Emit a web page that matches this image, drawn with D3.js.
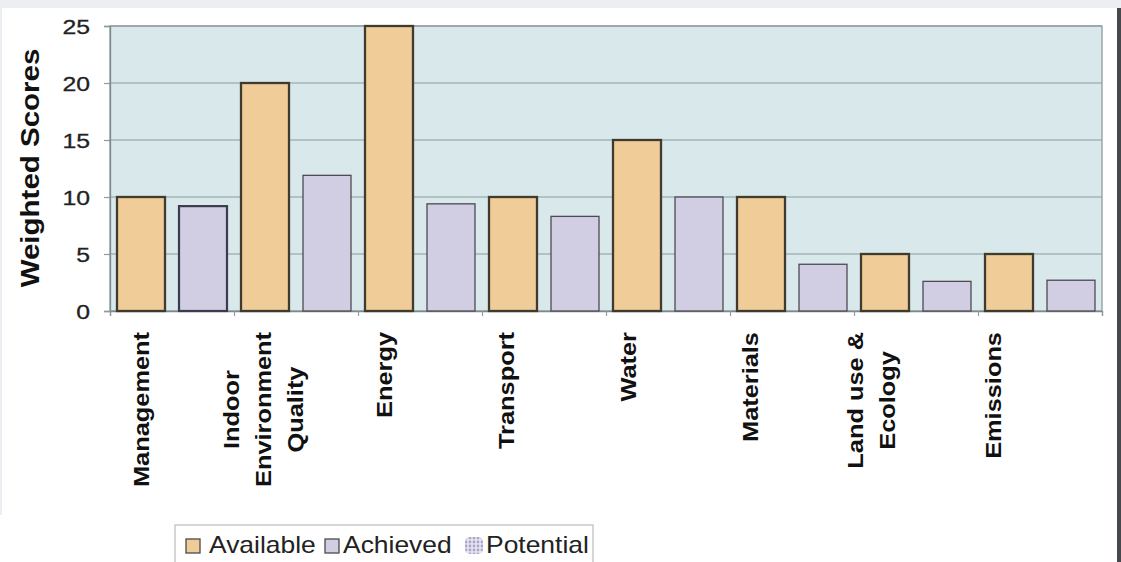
<!DOCTYPE html>
<html>
<head>
<meta charset="utf-8">
<script src="https://cdn.jsdelivr.net/npm/d3@7"></script>
<style>
  html, body { margin: 0; padding: 0; background: #ffffff; }
  svg { display: block; font-family: "Liberation Sans", Arial, sans-serif; }
</style>
</head>
<body>
<svg id="chart" width="1121" height="562"></svg>
<script>
// chart data
var categories = ["Management", "Indoor\nEnvironment\nQuality", "Energy", "Transport",
    "Water", "Materials", "Land use &\nEcology", "Emissions"];
var available = [10, 20, 25, 10, 15, 10, 5, 5];
var achieved = [9.2, 11.9, 9.4, 8.3, 10.0, 4.1, 2.6, 2.7];
var potential = [0, 0, 0, 0, 0, 0, 0, 0];
var yTicks = [0, 5, 10, 15, 20, 25];
var seriesNames = ["Available", "Achieved", "Potential"];

var W = 1121, H = 562;
var plot = { left: 110, right: 1102, top: 26, bottom: 311 };
var stretch = 1.18; // the source font runs wide

var svg = d3.select("#chart");

// page / card background
svg.append("rect").attr("width", W).attr("height", H).attr("fill", "#ffffff");
svg.append("rect").attr("width", W).attr("height", 8).attr("fill", "#eceef1");
svg.append("rect").attr("x", 1117).attr("y", 8).attr("width", 4).attr("height", H - 8)
    .attr("fill", "#45484c");
svg.append("line").attr("x1", 1).attr("x2", 1).attr("y1", 8).attr("y2", 515)
    .attr("stroke", "#e4e8ee").attr("stroke-width", 1.5);

var x = d3.scaleBand()
    .domain(d3.range(categories.length))
    .range([plot.left, plot.right])
    .padding(0);

var xSub = d3.scaleBand()
    .domain(["Available", "Achieved"])
    .range([0, x.bandwidth()])
    .paddingInner(0.2258)
    .paddingOuter(0.113);

var xTick = d3.scaleLinear()
    .domain([0, categories.length])
    .range([plot.left, plot.right]);

// label positions drift a little from the band centres in the source
var xLabel = d3.scalePoint()
    .domain(d3.range(categories.length))
    .range([141, 993]);

var y = d3.scaleLinear()
    .domain([0, 25])
    .range([plot.bottom, plot.top]);

// plot area
svg.append("rect")
    .attr("x", plot.left).attr("y", plot.top)
    .attr("width", plot.right - plot.left).attr("height", plot.bottom - plot.top)
    .attr("fill", "#d9e8ea");

svg.append("g").selectAll("line.grid")
    .data(yTicks.slice(1))
    .enter().append("line")
    .classed("grid", true)
    .attr("x1", plot.left).attr("x2", plot.right)
    .attr("y1", function (d) { return y(d); })
    .attr("y2", function (d) { return y(d); })
    .attr("stroke", "#a3b6b9").attr("stroke-width", 1.3);

svg.append("rect")
    .attr("x", plot.left).attr("y", plot.top)
    .attr("width", plot.right - plot.left).attr("height", plot.bottom - plot.top)
    .attr("fill", "none").attr("stroke", "#8e9b9d").attr("stroke-width", 1.3);

// axes
var yAxis = svg.append("g")
    .attr("transform", "translate(" + plot.left + ",0)")
    .call(d3.axisLeft(y).tickValues(yTicks).tickSize(6).tickFormat(""));
var xAxis = svg.append("g")
    .attr("transform", "translate(0," + plot.bottom + ")")
    .call(d3.axisBottom(xTick).ticks(categories.length).tickSize(5).tickFormat(""));
[yAxis, xAxis].forEach(function (ax) {
    ax.select(".domain").attr("stroke", "#7d8a8c").attr("stroke-width", 1.3);
    ax.selectAll(".tick line").attr("stroke", "#8e9b9d").attr("stroke-width", 1.2);
});

// y tick labels
svg.append("g").selectAll("text.ytick")
    .data(yTicks)
    .enter().append("text")
    .classed("ytick", true)
    .attr("transform", function (d) {
        return "translate(90," + (y(d) + 8) + ") scale(" + stretch + ",1)";
    })
    .attr("text-anchor", "end")
    .attr("font-size", 21)
    .attr("fill", "#222")
    .attr("stroke", "#222").attr("stroke-width", 0.3)
    .text(function (d) { return d; });

// y axis title
svg.append("text")
    .attr("transform", "translate(39,168) rotate(-90) scale(" + stretch + ",1)")
    .attr("text-anchor", "middle")
    .attr("font-size", 25)
    .attr("font-weight", "bold")
    .attr("fill", "#111")
    .text("Weighted Scores");

// bars
var barGroups = svg.append("g").selectAll("g.cat")
    .data(categories)
    .enter().append("g")
    .classed("cat", true)
    .attr("transform", function (d, i) { return "translate(" + x(i) + ",0)"; });

barGroups.append("rect")
    .classed("available", true)
    .attr("x", xSub("Available"))
    .attr("width", xSub.bandwidth())
    .attr("y", function (d, i) { return y(available[i]); })
    .attr("height", function (d, i) { return y(0) - y(available[i]); })
    .attr("fill", "#f0cd98")
    .attr("stroke", "#3f3b2e")
    .attr("stroke-width", 2.3);

barGroups.append("rect")
    .classed("achieved", true)
    .attr("x", xSub("Achieved"))
    .attr("width", xSub.bandwidth())
    .attr("y", function (d, i) { return y(achieved[i]); })
    .attr("height", function (d, i) { return y(0) - y(achieved[i]); })
    .attr("fill", "#d1cde3")
    .attr("stroke", function (d, i) { return i === 0 ? "#3b3d4e" : "#4e4a52"; })
    .attr("stroke-width", function (d, i) { return i === 0 ? 2.2 : 1.3; });

// potential stacks on top of achieved (nothing visible in the source)
barGroups.append("rect")
    .classed("potential", true)
    .attr("x", xSub("Achieved"))
    .attr("width", xSub.bandwidth())
    .attr("y", function (d, i) { return y(achieved[i] + potential[i]); })
    .attr("height", function (d, i) { return y(achieved[i]) - y(achieved[i] + potential[i]); })
    .attr("fill", "url(#dots)");

// category labels, rotated, lines centred, block hanging from the axis
var labelTop = 332;
svg.append("g").selectAll("g.xlabel")
    .data(categories)
    .enter().append("g")
    .classed("xlabel", true)
    .each(function (d, i) {
        var g = d3.select(this);
        var lines = d.split("\n");
        var lineGap = 32;
        var texts = lines.map(function (line) {
            return g.append("text")
                .attr("font-size", 21.5)
                .attr("font-weight", "bold")
                .attr("fill", "#111")
                .attr("text-anchor", "middle")
                .text(line);
        });
        var maxLen = d3.max(texts, function (t) { return t.node().getComputedTextLength(); }) * stretch;
        var cx = xLabel(i);
        var firstBase = cx - (lines.length - 1) * lineGap / 2 + 8;
        texts.forEach(function (t, k) {
            t.attr("transform", "translate(" + (firstBase + k * lineGap) + "," + (labelTop + maxLen / 2) +
                ") rotate(-90) scale(" + stretch + ",1)");
        });
    });

// legend
var defs = svg.append("defs");
var pat = defs.append("pattern")
    .attr("id", "dots")
    .attr("width", 4).attr("height", 4)
    .attr("patternUnits", "userSpaceOnUse");
pat.append("rect").attr("width", 4).attr("height", 4).attr("fill", "#e6e4f0");
pat.append("circle").attr("cx", 2).attr("cy", 2).attr("r", 1.4).attr("fill", "#a9a5cc");

var legend = svg.append("g");
legend.append("rect")
    .attr("x", 175).attr("y", 525)
    .attr("width", 418).attr("height", 50)
    .attr("fill", "#ffffff").attr("stroke", "#b8bcc0").attr("stroke-width", 1.2);

var legendSym = [186, 325, 465];
var legendText = [209, 343, 486];
var legendFill = ["#f0cd98", "#d1cde3", "url(#dots)"];
seriesNames.forEach(function (name, i) {
    if (i < 2) {
        legend.append("rect")
            .attr("x", legendSym[i]).attr("y", 539)
            .attr("width", 14).attr("height", 14)
            .attr("fill", legendFill[i])
            .attr("stroke", "#4a4a4a").attr("stroke-width", 1.3);
    } else {
        legend.append("rect")
            .attr("x", legendSym[i]).attr("y", 537)
            .attr("width", 18).attr("height", 17)
            .attr("rx", 5)
            .attr("fill", legendFill[i]);
    }
    legend.append("text")
        .attr("transform", "translate(" + legendText[i] + ",553) scale(1.15,1)")
        .attr("font-size", 23)
        .attr("fill", "#222")
        .text(name);
});
</script>
</body>
</html>
